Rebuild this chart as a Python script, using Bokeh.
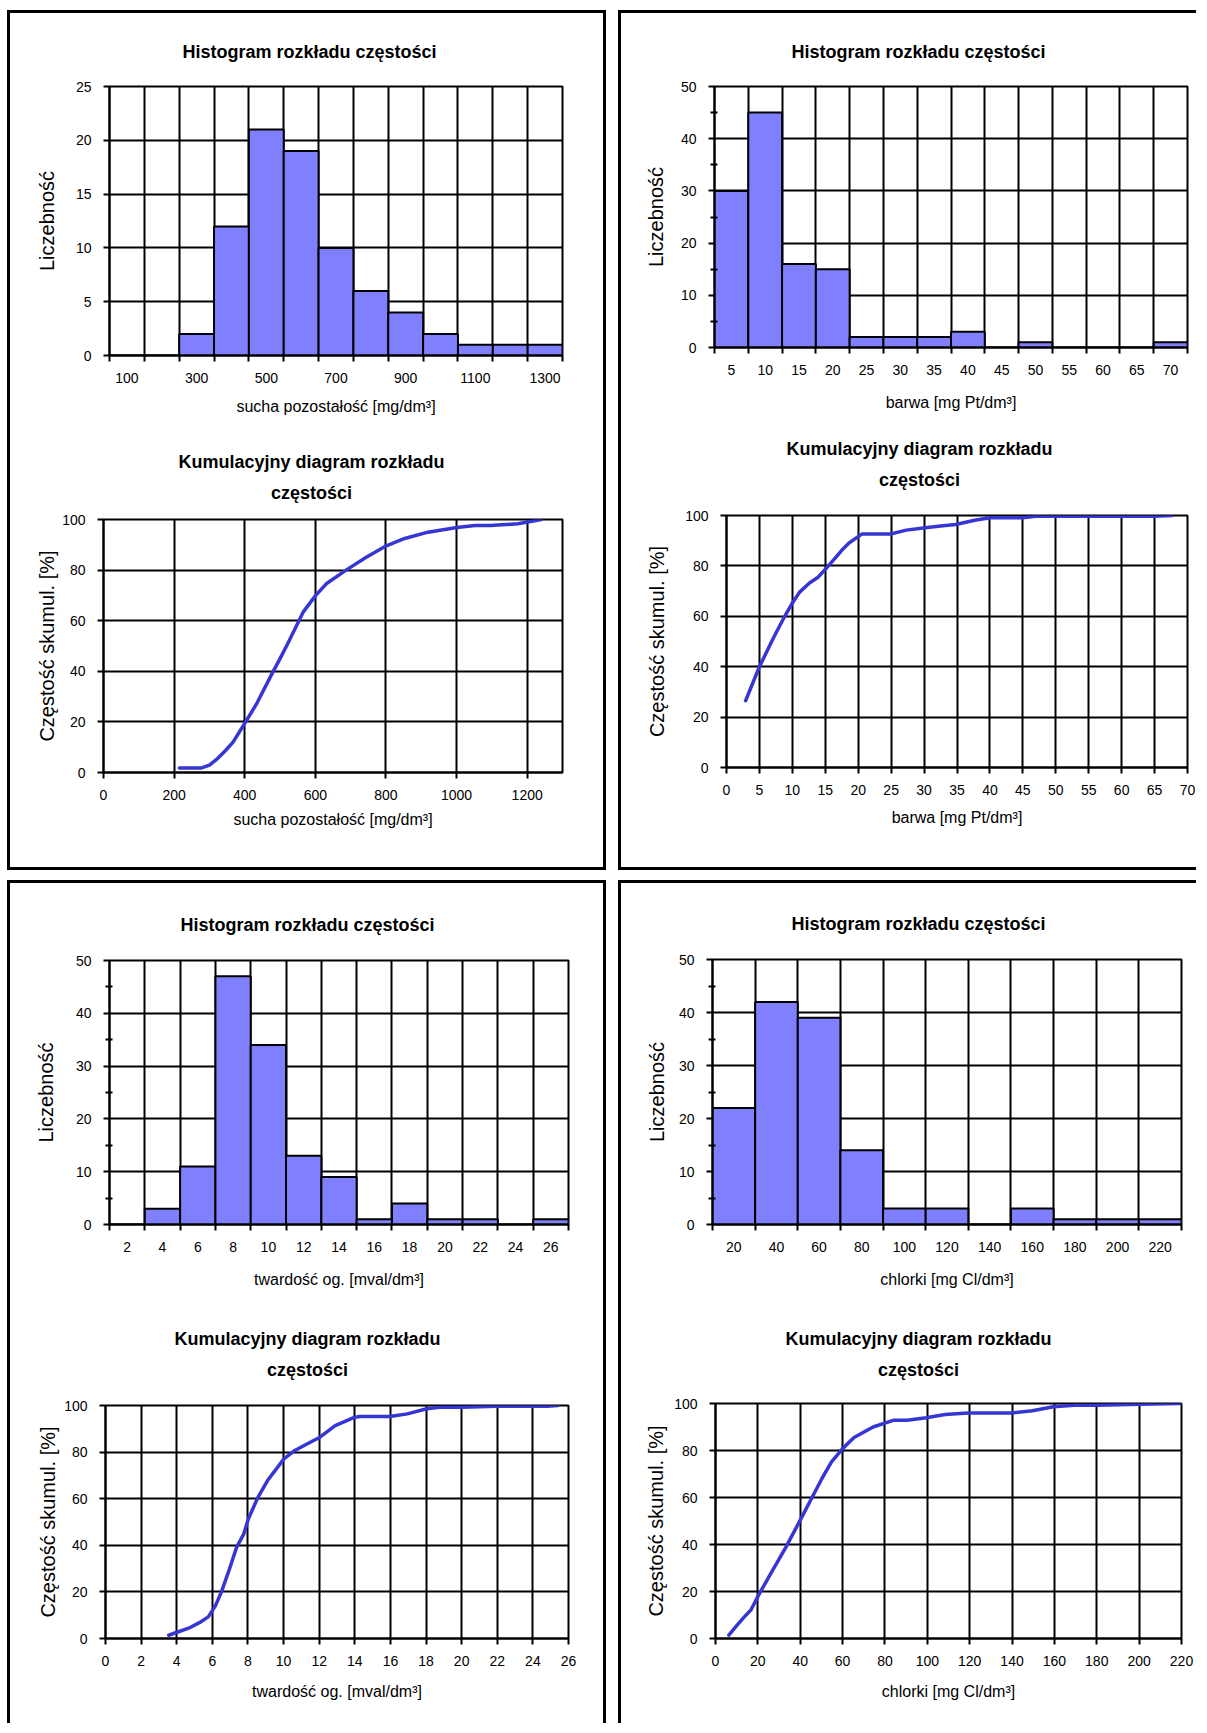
from bokeh.plotting import figure
from bokeh.models import (Range1d, FixedTicker, ColumnDataSource, Title, LinearAxis,
                          Column, Row)
from bokeh.embed import file_html
from bokeh.resources import INLINE

# ---------------- data ----------------
# sucha pozostałość
sp_bins = [100, 200, 300, 400, 500, 600, 700, 800, 900, 1000, 1100, 1200, 1300]
sp_counts = [0, 0, 2, 12, 21, 19, 10, 6, 4, 2, 1, 1, 1]
sp_hist_yticks = [0, 5, 10, 15, 20, 25]
sp_cum_x = [215, 278, 300, 323, 345, 367, 400, 433, 477, 500, 522, 566, 601, 632,
            687, 743, 801, 853, 919, 1001, 1052, 1096, 1174, 1240]
sp_cum_y = [1.8, 1.8, 2.9, 5.5, 8.6, 12, 19.4, 27, 39, 45, 51, 63.5, 70, 74.7,
            80, 85, 89.6, 92.5, 95, 96.8, 97.6, 97.6, 98.3, 100]
sp_cum_xticks = [0, 200, 400, 600, 800, 1000, 1200]

# barwa
bw_bins = [5, 10, 15, 20, 25, 30, 35, 40, 45, 50, 55, 60, 65, 70]
bw_counts = [30, 45, 16, 15, 2, 2, 2, 3, 0, 1, 0, 0, 0, 1]
bw_cum_x = [2.9, 5.0, 7.1, 8.7, 10.0, 11.1, 12.6, 13.9, 15.2, 16.3, 17.5, 18.6, 20.6,
            25.0, 27.3, 30.2, 32.5, 34.8, 37.7, 40.0, 44.9, 47.0, 64.9, 67.7]
bw_cum_y = [26.5, 40, 51.3, 59.3, 65.3, 69.6, 73.2, 75.5, 79.2, 82.5, 86.2, 89.1, 92.7,
            92.7, 94.2, 95.1, 95.8, 96.4, 98.1, 99.1, 99.1, 99.7, 99.7, 100]
bw_cum_xticks = [0, 5, 10, 15, 20, 25, 30, 35, 40, 45, 50, 55, 60, 65, 70]

# twardość og.
tw_bins = [2, 4, 6, 8, 10, 12, 14, 16, 18, 20, 22, 24, 26]
tw_counts = [0, 3, 11, 47, 34, 13, 9, 1, 4, 1, 1, 0, 1]
tw_cum_x = [3.55, 4.1, 4.75, 5.3, 5.77, 6.17, 6.5, 6.93, 7.36, 7.76, 8.02, 8.56, 9.1,
            10.02, 10.63, 11.5, 12.04, 12.9, 14.0, 14.3, 15.97, 16.95, 18.04, 18.9,
            20.0, 21.96, 24.8, 25.4]
tw_cum_y = [1.4, 2.9, 4.7, 6.9, 9.3, 14, 19.8, 29.1, 39.1, 44.8, 51.3, 60.6, 67.8,
            77.1, 80.7, 84.2, 86.4, 91.4, 95.0, 95.3, 95.3, 96.4, 98.6, 99.3,
            99.3, 99.7, 99.7, 100]
tw_cum_xticks = [0, 2, 4, 6, 8, 10, 12, 14, 16, 18, 20, 22, 24, 26]

# chlorki
cl_bins = [20, 40, 60, 80, 100, 120, 140, 160, 180, 200, 220]
cl_counts = [22, 42, 39, 14, 3, 3, 0, 3, 1, 1, 1]
cl_cum_x = [6.3, 9.9, 13.4, 16.7, 20.6, 26.0, 33.2, 40.3, 45.7, 50.2, 54.7, 60.0, 65.4,
            74.4, 84.2, 90.5, 99.5, 108.4, 119.2, 139.8, 149.6, 159.5, 169.4, 180.1,
            199.8, 219.5]
cl_cum_y = [1.4, 5.4, 9.0, 12.1, 18.9, 27.5, 38.8, 50.9, 60.2, 68.0, 75.1, 80.8, 85.5,
            90.0, 92.9, 92.9, 93.9, 95.3, 96.0, 96.0, 96.9, 98.6, 99.3, 99.3,
            99.7, 100]
cl_cum_xticks = [0, 20, 40, 60, 80, 100, 120, 140, 160, 180, 200, 220]

hist50_yticks = [0, 10, 20, 30, 40, 50]
hist50_yminor = [5, 15, 25, 35, 45]
cum_yticks = [0, 20, 40, 60, 80, 100]

HIST_TITLE = "Histogram rozkładu częstości"
CUM_TITLE_1 = "Kumulacyjny diagram rozkładu"
CUM_TITLE_2 = "częstości"
HIST_YLABEL = "Liczebność"
CUM_YLABEL = "Częstość skumul. [%]"

# ---------------- style ----------------
FONT = "Liberation Sans"
BAR_FILL = "#8080ff"
LINE_COLOR = "#3636d4"
TITLE_SIZE = 18
ARIAL_BOLD = {"H": .722, "i": .278, "s": .556, "t": .333, "o": .611, "g": .611,
              "r": .389, "a": .556, "m": .889, " ": .278, "z": .5, "k": .556,
              "ł": .278, "d": .611, "u": .611, "c": .556, "ę": .556, "ś": .556,
              "K": .722, "l": .278, "y": .556, "j": .278, "n": .611}


def text_width(s, size):
    return sum(ARIAL_BOLD.get(c, 0.556) for c in s) * size


def base_figure(g, x_range, y_range):
    p = figure(width=g["w"] - g["m"], height=g["h"], x_range=x_range, y_range=y_range,
               output_backend="svg", toolbar_location=None, title=None,
               min_border_left=g["L"], min_border_right=g["R"],
               min_border_top=g["T"], min_border_bottom=g["B"],
               background_fill_color="white", border_fill_color="white",
               margin=(0, 0, 0, g["m"]))
    p.outline_line_color = "black"
    p.outline_line_width = 2
    p.outline_line_alpha = 1
    for gr in p.grid:
        gr.grid_line_color = "black"
        gr.grid_line_width = 2
        gr.grid_line_alpha = 1
    for ax in p.axis:
        ax.axis_line_color = "black"
        ax.axis_line_width = 2
        ax.major_tick_line_color = "black"
        ax.major_tick_line_width = 2
        ax.major_tick_in = 0
        ax.major_tick_out = 6
        ax.minor_tick_line_color = "black"
        ax.minor_tick_line_width = 2
        ax.major_label_text_font = FONT
        ax.major_label_text_font_size = "14px"
        ax.major_label_text_color = "black"
        ax.axis_label_text_font = FONT
        ax.axis_label_text_font_style = "normal"
        ax.axis_label_text_color = "black"
    p.yaxis.major_label_standoff = 12
    p.xaxis.major_label_standoff = 11
    p.yaxis.axis_label_text_font_size = "20px"
    p.xaxis.axis_label_text_font_size = "16px"
    p.yaxis.axis_label_standoff = g["ys"]
    p.xaxis.axis_label_standoff = g["xs"]
    return p


def add_title(p, text, g, standoff):
    # centre the title at g["cx"] (panel coordinates); frame starts at m + L
    off = g["cx"] - g["m"] - g["L"] - text_width(text, TITLE_SIZE) / 2
    p.add_layout(Title(text=text, align="left", offset=off, standoff=standoff,
                       text_font=FONT, text_font_size=f"{TITLE_SIZE}px",
                       text_font_style="bold", text_color="black"), "above")


def make_hist(bins, counts, label_step, y_ticks, y_minor, xlabel, g):
    n = len(bins)
    p = base_figure(g, Range1d(0, n), Range1d(y_ticks[0], y_ticks[-1]))
    src = ColumnDataSource(dict(left=[i for i in range(n)],
                                right=[i + 1 for i in range(n)],
                                top=counts, bottom=[0] * n))
    p.quad(left="left", right="right", top="top", bottom="bottom", source=src,
           fill_color=BAR_FILL, line_color="black", line_width=2)
    label_idx = [i for i in range(n) if i % label_step == 0]
    bounds = [i for i in range(n + 1)]
    p.xaxis.ticker = FixedTicker(ticks=[i + 0.5 for i in label_idx], minor_ticks=bounds)
    p.xaxis.major_label_overrides = {i + 0.5: str(bins[i]) for i in label_idx}
    p.xaxis.major_tick_line_color = None
    p.xaxis.minor_tick_in = 0
    p.xaxis.minor_tick_out = 6
    p.xgrid.ticker = FixedTicker(ticks=bounds)
    p.yaxis.ticker = FixedTicker(ticks=y_ticks, minor_ticks=y_minor)
    p.ygrid.ticker = FixedTicker(ticks=y_ticks)
    p.yaxis.minor_tick_in = 3
    p.yaxis.minor_tick_out = 4
    p.xaxis.axis_label = xlabel
    p.yaxis.axis_label = HIST_YLABEL
    add_title(p, HIST_TITLE, g, g["st"])
    return p


def make_cum(xs, ys, x_ticks, x_end, xlabel, g):
    p = base_figure(g, Range1d(0, x_end), Range1d(cum_yticks[0], cum_yticks[-1]))
    p.line(x="x", y="y", source=ColumnDataSource(dict(x=xs, y=ys)),
           line_color=LINE_COLOR, line_width=3.5, line_join="round", line_cap="round")
    p.xaxis.ticker = FixedTicker(ticks=x_ticks)
    p.yaxis.ticker = FixedTicker(ticks=cum_yticks)
    p.xgrid.ticker = FixedTicker(ticks=x_ticks)
    p.ygrid.ticker = FixedTicker(ticks=cum_yticks)
    p.xaxis.axis_label = xlabel
    p.yaxis.axis_label = CUM_YLABEL
    # unlabelled, invisible axis used only as vertical space between title and frame
    spacer = LinearAxis(ticker=FixedTicker(ticks=[x_end]), axis_line_color=None,
                        major_tick_line_color="white", major_tick_line_alpha=0.01,
                        major_tick_line_width=1, minor_tick_line_color=None,
                        major_tick_in=0, major_tick_out=g["gap"],
                        major_label_overrides={x_end: ""}, major_label_standoff=0,
                        major_label_text_font_size="1px")
    p.add_layout(spacer, "above")
    add_title(p, CUM_TITLE_2, g, 18)
    add_title(p, CUM_TITLE_1, g, 0)
    return p


# geometry of each chart: w = panel inner width, m = left margin, L = common left border
G_TL_H = dict(w=593, m=6, h=427, L=93, R=41, T=73, B=85, ys=15, xs=12, cx=299, st=50)
G_TL_C = dict(w=593, m=0, h=427, L=93, R=41, T=79, B=95, ys=1, xs=8, cx=301, gap=8)
G_TR_H = dict(w=575, m=0, h=421, L=93, R=9, T=73, B=87, ys=11, xs=16, cx=297, st=50)
G_TR_C = dict(w=575, m=12, h=433, L=93, R=9, T=81, B=100, ys=14, xs=11, cx=298, gap=17)
G_BL_H = dict(w=593, m=4, h=427, L=95, R=35, T=77, B=86, ys=16, xs=16, cx=297, st=52)
G_BL_C = dict(w=593, m=0, h=413, L=95, R=34, T=95, B=85, ys=2, xs=14, cx=297, gap=17)
G_BR_H = dict(w=575, m=0, h=427, L=91, R=13, T=76, B=86, ys=8, xs=16, cx=297, st=52)
G_BR_C = dict(w=575, m=3, h=413, L=91, R=15, T=93, B=85, ys=4, xs=14, cx=297, gap=15)

h_sp = make_hist(sp_bins, sp_counts, 2, sp_hist_yticks, [], "sucha pozostałość [mg/dm³]", G_TL_H)
c_sp = make_cum(sp_cum_x, sp_cum_y, sp_cum_xticks, 1300, "sucha pozostałość [mg/dm³]", G_TL_C)
h_bw = make_hist(bw_bins, bw_counts, 1, hist50_yticks, hist50_yminor, "barwa [mg Pt/dm³]", G_TR_H)
c_bw = make_cum(bw_cum_x, bw_cum_y, bw_cum_xticks, 70, "barwa [mg Pt/dm³]", G_TR_C)
h_tw = make_hist(tw_bins, tw_counts, 1, hist50_yticks, hist50_yminor, "twardość og. [mval/dm³]", G_BL_H)
c_tw = make_cum(tw_cum_x, tw_cum_y, tw_cum_xticks, 26, "twardość og. [mval/dm³]", G_BL_C)
h_cl = make_hist(cl_bins, cl_counts, 1, hist50_yticks, hist50_yminor, "chlorki [mg Cl/dm³]", G_BR_H)
c_cl = make_cum(cl_cum_x, cl_cum_y, cl_cum_xticks, 220, "chlorki [mg Cl/dm³]", G_BR_C)

BORDER = "3px solid black"


def panel(children, sides, margin):
    styles = {}
    for side in ("top", "right", "bottom", "left"):
        styles[f"border-{side}"] = BORDER if side in sides else "none"
    styles["background-color"] = "white"
    return Column(children=children, styles=styles, margin=margin, spacing=0)


p_tl = panel([h_sp, c_sp], ("top", "right", "bottom", "left"), (0, 0, 0, 0))
p_tr = panel([h_bw, c_bw], ("top", "bottom", "left"), (0, 0, 0, 12))
p_bl = panel([h_tw, c_tw], ("top", "right", "left"), (10, 0, 0, 0))
p_br = panel([h_cl, c_cl], ("top", "left"), (10, 0, 0, 12))

root = Column(children=[Row(children=[p_tl, p_tr], spacing=0),
                        Row(children=[p_bl, p_br], spacing=0)],
              spacing=0, margin=(10, 0, 0, 7))

open("out.html", "w").write(file_html(root, INLINE))
